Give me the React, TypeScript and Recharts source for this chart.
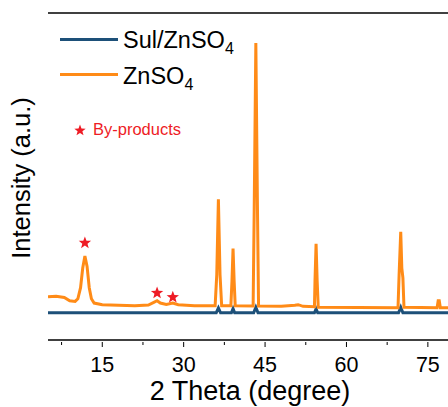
import { ComposedChart, Line, Scatter, XAxis, YAxis, ReferenceLine } from "recharts";

// ZnSO4 pattern (2θ, intensity in arbitrary units)
const ZN_THETA = [
  5, 6.5, 8, 9, 10, 10.5, 11, 11.4, 11.8, 12.2, 12.6, 13, 13.5, 15, 18, 21, 23.5, 24.5, 25.1, 25.7,
  26.8, 28, 29, 32, 35.8, 36.1, 36.4, 36.7, 37, 38.7, 38.9, 39.1, 39.3, 39.5, 42.8, 43, 43.3, 43.6,
  43.8, 48, 50.5, 51.1, 52, 54.1, 54.2, 54.4, 54.6, 54.8, 69.5, 69.7, 70, 70.2, 70.4, 70.6, 76.7,
  76.9, 77.1, 77.3, 80,
];
const ZN_INT = [
  13.2, 13.4, 13, 12, 11.8, 12.6, 16, 22, 25.7, 22.5, 16, 12.6, 11.3, 10.8, 10.6, 10.5, 10.7, 11.5,
  12, 11.3, 10.9, 11.3, 10.8, 10.5, 10.5, 20, 43, 20, 10.5, 10.5, 18, 28, 18, 10.5, 10.4, 40, 90.8,
  40, 10.4, 10.3, 10.6, 10.8, 10.3, 10.2, 18, 29.4, 18, 10, 9.9, 20, 33.1, 22, 19, 10, 9.9, 12, 12,
  9.9, 9.9,
];

// Sul/ZnSO4 pattern
const SUL_THETA = [5, 36, 36.4, 36.8, 38.8, 39.1, 39.4, 42.9, 43.3, 43.7, 54.1, 54.4, 54.7, 69.6, 70, 70.4, 80];
const SUL_INT = [8.3, 8.3, 9.8, 8.3, 8.3, 9.6, 8.3, 8.3, 10, 8.3, 8.3, 9.5, 8.3, 8.3, 10, 8.3, 8.3];

// by-product markers
const STAR_THETA = [11.8, 25.1, 28];
const STAR_INT = [29.7, 14.4, 13.1];

const X_TICKS = [7.5, 15, 22.5, 30, 37.5, 45, 52.5, 60, 67.5, 75];
const X_LABELS = [15, 30, 45, 60, 75];

const BLUE = "#1d5079";
const ORANGE = "#ff8b17";
const RED = "#ee1c25";
const FONT = "'Liberation Sans', Arial, sans-serif";

const znData = ZN_THETA.map((t, i) => ({ t, v: ZN_INT[i] }));
const sulData = SUL_THETA.map((t, i) => ({ t, v: SUL_INT[i] }));
const starData = STAR_THETA.map((t, i) => ({ t, v: STAR_INT[i] }));

function starPoints(cx: number, cy: number, r: number) {
  const pts: string[] = [];
  for (let k = 0; k < 10; k++) {
    const rad = k % 2 === 0 ? r : r * 0.42;
    const a = -Math.PI / 2 + (k * Math.PI) / 5;
    pts.push(`${cx + rad * Math.cos(a)},${cy + rad * Math.sin(a)}`);
  }
  return pts.join(" ");
}

const StarShape = (props: any) => (
  <polygon points={starPoints(props.cx, props.cy, 6.5)} fill={RED} />
);

const XTick = (props: any) => {
  const { x, y, payload } = props;
  const major = X_LABELS.includes(payload.value);
  return (
    <g>
      <line x1={x} y1={y} x2={x} y2={y + (major ? 5 : 3)} stroke="#000" strokeWidth={1} />
      {major && (
        <text x={x} y={y + 30} textAnchor="middle" fontSize={21.5} fontFamily={FONT} fill="#000">
          {payload.value}
        </text>
      )}
    </g>
  );
};

const textBox = { position: "absolute" as const, whiteSpace: "nowrap" as const, lineHeight: 1 };

export default function App() {
  return (
    <div style={{ position: "absolute", left: 0, top: 0, width: 448, height: 407, overflow: "hidden", background: "#fff" }}>
      <ComposedChart width={470} height={407} margin={{ top: 13, right: 15, bottom: 37, left: 48 }}>
        <XAxis
          type="number"
          dataKey="t"
          domain={[5, 80]}
          ticks={X_TICKS}
          interval={0}
          tick={<XTick />}
          tickLine={false}
          tickSize={0}
          height={30}
          allowDataOverflow
          axisLine={{ stroke: "#000", strokeWidth: 1.3 }}
        />
        <YAxis
          type="number"
          domain={[0, 100]}
          width={0}
          tick={false}
          tickLine={false}
          axisLine={{ stroke: "#000", strokeWidth: 1.3 }}
        />
        <ReferenceLine y={100} stroke="#000" strokeWidth={1.3} />
        <Line data={sulData} dataKey="v" type="linear" stroke={BLUE} strokeWidth={3} dot={false} isAnimationActive={false} />
        <Line data={znData} dataKey="v" type="linear" stroke={ORANGE} strokeWidth={3} dot={false} isAnimationActive={false} />
        <Scatter data={starData} dataKey="v" shape={<StarShape />} isAnimationActive={false} />
      </ComposedChart>

      <div style={{ position: "absolute", left: 0, top: 0, width: 448, height: 407, fontFamily: FONT, pointerEvents: "none" }}>
        <div style={{ ...textBox, left: 22, top: 178, transform: "translate(-50%, -50%) rotate(-90deg)", fontSize: 25.5 }}>
          Intensity (a.u.)
        </div>
        <div style={{ ...textBox, left: 250, top: 378, transform: "translateX(-50%)", fontSize: 27 }}>
          2 Theta (degree)
        </div>

        <div style={{ position: "absolute", left: 60, top: 37.5, width: 58, height: 3, background: BLUE }} />
        <div style={{ ...textBox, left: 123, top: 28.5, fontSize: 23.5 }}>
          Sul/ZnSO<sub style={{ fontSize: 16, lineHeight: 1 }}>4</sub>
        </div>
        <div style={{ position: "absolute", left: 60, top: 73, width: 58, height: 3, background: ORANGE }} />
        <div style={{ ...textBox, left: 123, top: 65, fontSize: 23.5 }}>
          ZnSO<sub style={{ fontSize: 16, lineHeight: 1 }}>4</sub>
        </div>

        <svg style={{ position: "absolute", left: 72, top: 122 }} width={16} height={16}>
          <polygon points={starPoints(8, 8.5, 6)} fill={RED} />
        </svg>
        <div style={{ ...textBox, left: 93, top: 121, fontSize: 16.5, color: RED }}>By-products</div>
      </div>
    </div>
  );
}
